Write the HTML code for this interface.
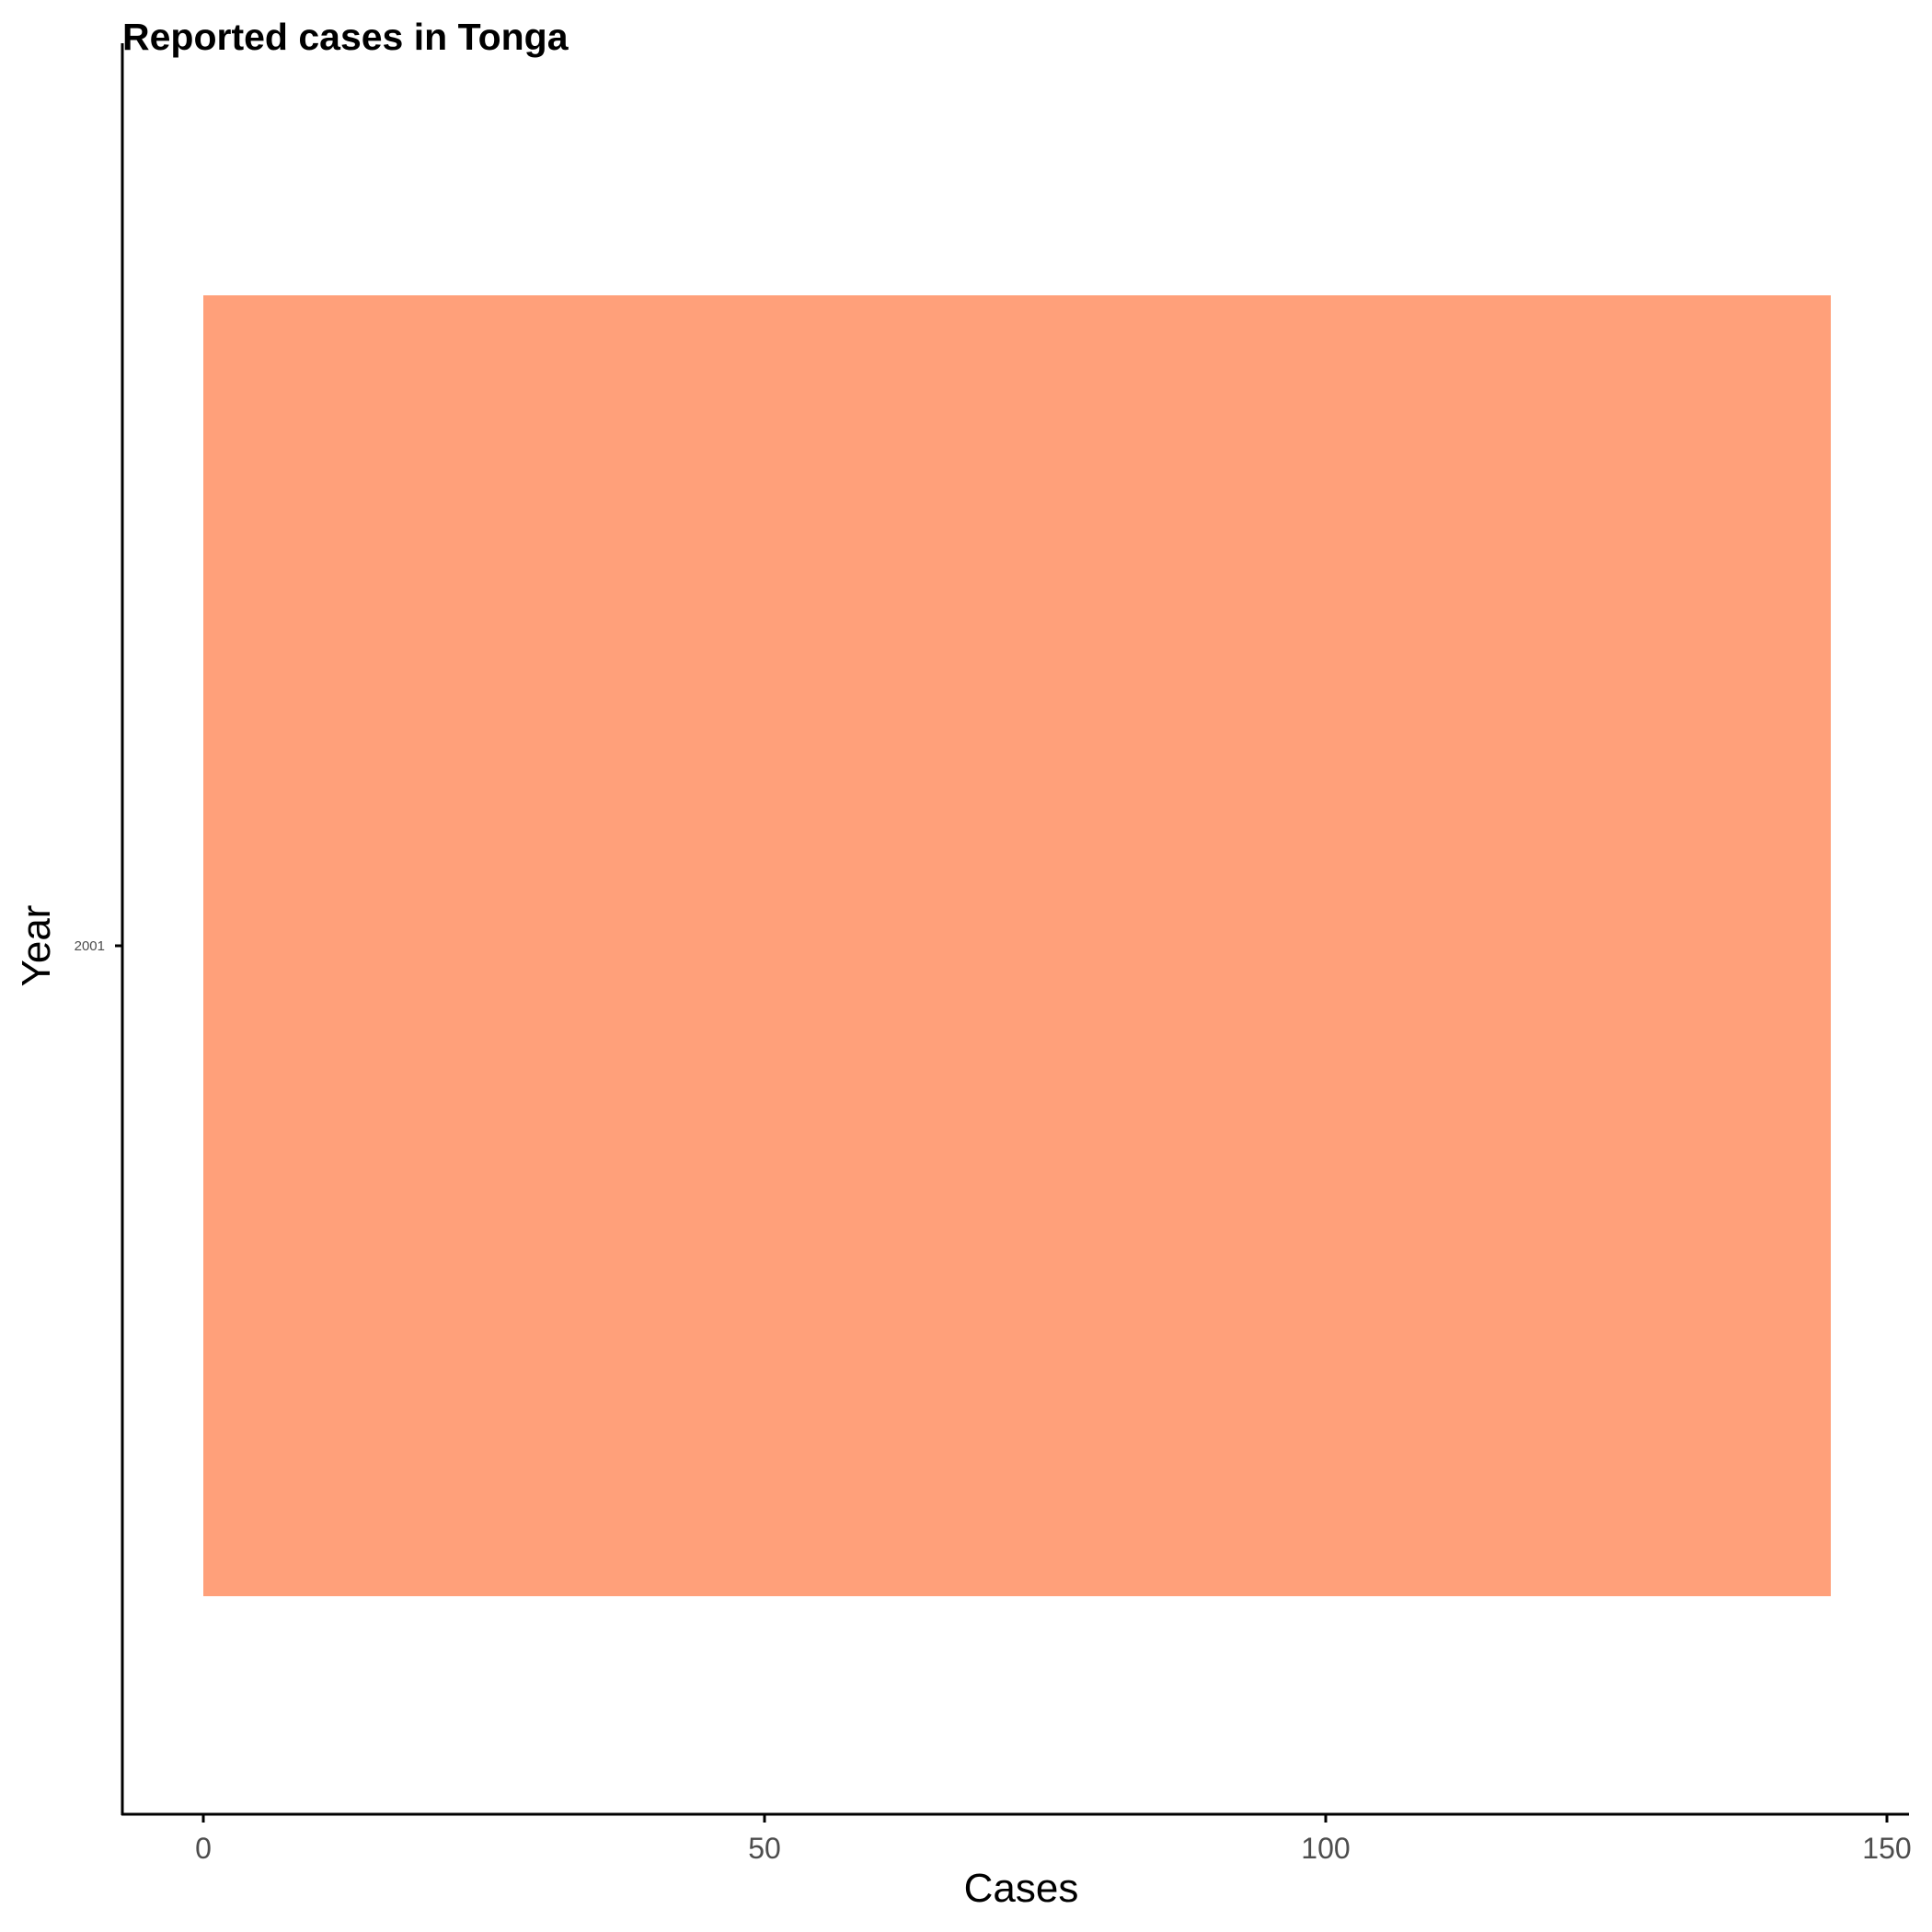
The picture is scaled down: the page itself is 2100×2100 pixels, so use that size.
<!DOCTYPE html>
<html><head><meta charset="utf-8"><style>body{margin:0;background:#fff}svg{display:block;font-family:"Liberation Sans",Arial,sans-serif}</style></head>
<body>
<svg id="chart" width="2100" height="2100">
<text x="133" y="54" font-size="41" font-weight="bold">Reported cases in Tonga</text>
<g id="bars"></g>
<line x1="133" y1="47" x2="133" y2="1973" stroke="#000" stroke-width="3"/>
<line x1="132" y1="1972" x2="2075" y2="1972" stroke="#000" stroke-width="3"/>
<g id="xticks"></g><g id="yticks"></g>
<text x="1110" y="2067" font-size="44" text-anchor="middle">Cases</text>
<text transform="translate(54,1028) rotate(-90)" font-size="44" text-anchor="middle">Year</text>
</svg>
<script>
const categories=["2001"];
const values=[145];
const xTicks=[0,50,100,150];
const NS="http://www.w3.org/2000/svg";
const x=v=>221+v*(2051-221)/150;
const bandTop=47,bandBot=1972,padTop=274,padBot=237;
const bw=(bandBot-bandTop-padTop-padBot)/categories.length;
const y=i=>bandTop+padTop+i*bw;
const bars=document.getElementById('bars');
categories.forEach((c,i)=>{
 const r=document.createElementNS(NS,'rect');
 r.setAttribute('x',x(0));r.setAttribute('y',y(i));
 r.setAttribute('width',x(values[i])-x(0));r.setAttribute('height',bw);
 r.setAttribute('fill','#FFA07A');
 
 
 bars.appendChild(r);
 const yt=document.getElementById('yticks');
 const cy=y(i)+bw/2;
 const l=document.createElementNS(NS,'line');
 l.setAttribute('x1',125);l.setAttribute('x2',133);l.setAttribute('y1',cy);l.setAttribute('y2',cy);l.setAttribute('stroke','#000');l.setAttribute('stroke-width',3);
 
 
 yt.appendChild(l);
 const t=document.createElementNS(NS,'text');
 t.setAttribute('x',114);t.setAttribute('y',cy+5);t.setAttribute('font-size',15);t.setAttribute('fill','#4d4d4d');t.setAttribute('text-anchor','end');
 t.textContent=c;
 
 
 yt.appendChild(t);
});
const xt=document.getElementById('xticks');
xTicks.forEach(v=>{
 const l=document.createElementNS(NS,'line');
 l.setAttribute('x1',x(v));l.setAttribute('x2',x(v));l.setAttribute('y1',1972);l.setAttribute('y2',1981);l.setAttribute('stroke','#000');l.setAttribute('stroke-width',3);
 
 
 xt.appendChild(l);
 const t=document.createElementNS(NS,'text');
 t.setAttribute('x',x(v));t.setAttribute('y',2020);t.setAttribute('font-size',32);t.setAttribute('fill','#4d4d4d');t.setAttribute('text-anchor','middle');
 t.textContent=v;
 
 
 xt.appendChild(t);
});
</script>
</body></html>
